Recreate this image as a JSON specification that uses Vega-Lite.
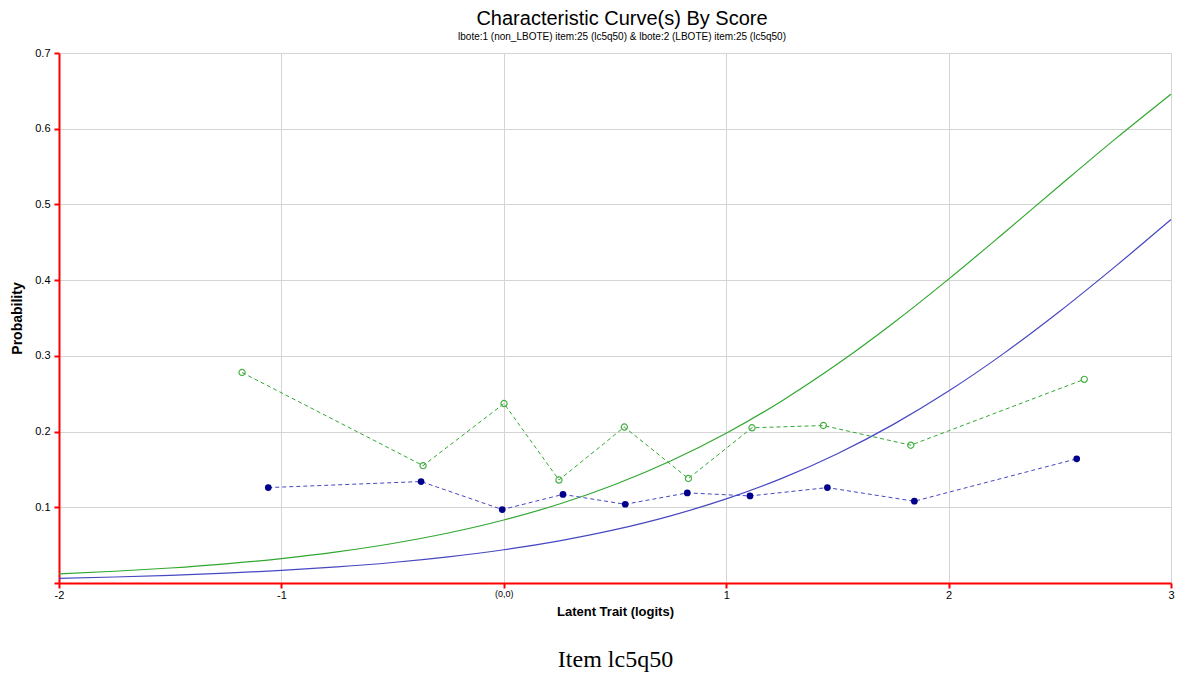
{
  "$schema": "https://vega.github.io/schema/vega-lite/v6.json",
  "width": 1112,
  "height": 530,
  "autosize": {"type": "none"},
  "padding": {"left": 59, "top": 53, "right": 8, "bottom": 98},
  "background": "white",
  "title": {
    "text": "Characteristic Curve(s) By Score",
    "subtitle": "lbote:1 (non_LBOTE) item:25 (lc5q50) & lbote:2 (LBOTE) item:25 (lc5q50)",
    "font": "Liberation Sans",
    "fontSize": 20,
    "fontWeight": "normal",
    "color": "#000000",
    "subtitleFont": "Liberation Sans",
    "subtitleFontSize": 10,
    "subtitleColor": "#000000",
    "subtitlePadding": 3,
    "anchor": "middle",
    "dx": 7,
    "offset": 5
  },
  "datasets": {
    "curves": [
      {"x": -2, "p": 0.00618, "g": "non_LBOTE"}, {"x": -1.75, "p": 0.00792, "g": "non_LBOTE"},
      {"x": -1.5, "p": 0.01015, "g": "non_LBOTE"}, {"x": -1.25, "p": 0.0130, "g": "non_LBOTE"},
      {"x": -1, "p": 0.0166, "g": "non_LBOTE"}, {"x": -0.75, "p": 0.0212, "g": "non_LBOTE"},
      {"x": -0.5, "p": 0.0271, "g": "non_LBOTE"}, {"x": -0.25, "p": 0.0346, "g": "non_LBOTE"},
      {"x": 0, "p": 0.0439, "g": "non_LBOTE"}, {"x": 0.25, "p": 0.0557, "g": "non_LBOTE"},
      {"x": 0.5, "p": 0.0704, "g": "non_LBOTE"}, {"x": 0.75, "p": 0.0887, "g": "non_LBOTE"},
      {"x": 1, "p": 0.1111, "g": "non_LBOTE"}, {"x": 1.25, "p": 0.1382, "g": "non_LBOTE"},
      {"x": 1.5, "p": 0.1708, "g": "non_LBOTE"}, {"x": 1.75, "p": 0.2092, "g": "non_LBOTE"},
      {"x": 2, "p": 0.2535, "g": "non_LBOTE"}, {"x": 2.25, "p": 0.3036, "g": "non_LBOTE"},
      {"x": 2.5, "p": 0.3589, "g": "non_LBOTE"}, {"x": 2.75, "p": 0.4182, "g": "non_LBOTE"},
      {"x": 3, "p": 0.4800, "g": "non_LBOTE"},
      {"x": -2, "p": 0.0121, "g": "LBOTE"}, {"x": -1.75, "p": 0.0155, "g": "LBOTE"},
      {"x": -1.5, "p": 0.0198, "g": "LBOTE"}, {"x": -1.25, "p": 0.0253, "g": "LBOTE"},
      {"x": -1, "p": 0.0323, "g": "LBOTE"}, {"x": -0.75, "p": 0.0411, "g": "LBOTE"},
      {"x": -0.5, "p": 0.0522, "g": "LBOTE"}, {"x": -0.25, "p": 0.0660, "g": "LBOTE"},
      {"x": 0, "p": 0.0832, "g": "LBOTE"}, {"x": 0.25, "p": 0.1043, "g": "LBOTE"},
      {"x": 0.5, "p": 0.1301, "g": "LBOTE"}, {"x": 0.75, "p": 0.1611, "g": "LBOTE"},
      {"x": 1, "p": 0.1978, "g": "LBOTE"}, {"x": 1.25, "p": 0.2405, "g": "LBOTE"},
      {"x": 1.5, "p": 0.2891, "g": "LBOTE"}, {"x": 1.75, "p": 0.3430, "g": "LBOTE"},
      {"x": 2, "p": 0.4013, "g": "LBOTE"}, {"x": 2.25, "p": 0.4626, "g": "LBOTE"},
      {"x": 2.5, "p": 0.5250, "g": "LBOTE"}, {"x": 2.75, "p": 0.5866, "g": "LBOTE"},
      {"x": 3, "p": 0.6457, "g": "LBOTE"}
    ],
    "observed": [
      {"x": -1.059, "p": 0.126, "g": "non_LBOTE"}, {"x": -0.372, "p": 0.134, "g": "non_LBOTE"},
      {"x": -0.007, "p": 0.097, "g": "non_LBOTE"}, {"x": 0.266, "p": 0.117, "g": "non_LBOTE"},
      {"x": 0.546, "p": 0.104, "g": "non_LBOTE"}, {"x": 0.825, "p": 0.119, "g": "non_LBOTE"},
      {"x": 1.107, "p": 0.115, "g": "non_LBOTE"}, {"x": 1.455, "p": 0.126, "g": "non_LBOTE"},
      {"x": 1.846, "p": 0.108, "g": "non_LBOTE"}, {"x": 2.576, "p": 0.164, "g": "non_LBOTE"},
      {"x": -1.177, "p": 0.278, "g": "LBOTE"}, {"x": -0.363, "p": 0.155, "g": "LBOTE"},
      {"x": 0.001, "p": 0.237, "g": "LBOTE"}, {"x": 0.248, "p": 0.136, "g": "LBOTE"},
      {"x": 0.542, "p": 0.206, "g": "LBOTE"}, {"x": 0.830, "p": 0.138, "g": "LBOTE"},
      {"x": 1.116, "p": 0.205, "g": "LBOTE"}, {"x": 1.437, "p": 0.208, "g": "LBOTE"},
      {"x": 1.830, "p": 0.182, "g": "LBOTE"}, {"x": 2.610, "p": 0.269, "g": "LBOTE"}
    ]
  },
  "config": {
    "view": {"stroke": null},
    "axis": {
      "labelFont": "Liberation Sans",
      "labelFontSize": 11,
      "labelColor": "#000000",
      "titleFont": "Liberation Sans",
      "titleColor": "#000000",
      "gridColor": "#d4d4d4",
      "gridWidth": 1
    }
  },
  "layer": [
    {
      "data": {"name": "curves"},
      "mark": {"type": "line", "strokeWidth": 1.2, "interpolate": "monotone"},
      "encoding": {
        "x": {
          "field": "x", "type": "quantitative",
          "scale": {"domain": [-2, 3], "nice": false, "zero": false},
          "axis": {
            "values": [-2, -1, 0, 1, 2, 3],
            "labelExpr": "datum.value == 0 ? '(0,0)' : '' + datum.value",
            "labelFontSize": {"condition": {"test": "datum.value == 0", "value": 9}, "value": 11},
            "labelFlush": false,
            "domainColor": "#ff0000", "domainWidth": 2,
            "tickColor": "#ff0000", "tickWidth": 2, "tickSize": 5,
            "labelPadding": 1,
            "title": "Latent Trait (logits)",
            "titleFontSize": 13, "titleFontWeight": "bold", "titlePadding": 5,
            "grid": true
          }
        },
        "y": {
          "field": "p", "type": "quantitative",
          "scale": {"domain": [0, 0.7], "nice": false},
          "axis": {
            "values": [0, 0.1, 0.2, 0.3, 0.4, 0.5, 0.6, 0.7],
            "format": ".1f",
            "labelExpr": "datum.value == 0 ? '' : datum.label",
            "labelFlush": false,
            "domainColor": "#ff0000", "domainWidth": 2,
            "tickColor": "#ff0000", "tickWidth": 2, "tickSize": 5,
            "labelPadding": 4,
            "title": "Probability",
            "titleFontSize": 14, "titleFontWeight": "bold", "titlePadding": 10,
            "grid": true
          }
        },
        "color": {
          "field": "g", "type": "nominal",
          "scale": {"domain": ["non_LBOTE", "LBOTE"], "range": ["#4747c2", "#30a830"]},
          "legend": null
        }
      }
    },
    {
      "data": {"name": "observed"},
      "mark": {"type": "line", "strokeWidth": 1, "strokeDash": [4, 3]},
      "encoding": {
        "x": {"field": "x", "type": "quantitative", "axis": null},
        "y": {"field": "p", "type": "quantitative"},
        "color": {
          "field": "g", "type": "nominal",
          "scale": {"domain": ["non_LBOTE", "LBOTE"], "range": ["#2a2aa8", "#33aa33"]},
          "legend": null
        }
      }
    },
    {
      "data": {"name": "observed"},
      "transform": [{"filter": "datum.g == 'non_LBOTE'"}],
      "mark": {"type": "point", "shape": "circle", "filled": true, "size": 45, "opacity": 1, "color": "#00008b"},
      "encoding": {
        "x": {"field": "x", "type": "quantitative", "axis": null},
        "y": {"field": "p", "type": "quantitative"}
      }
    },
    {
      "data": {"name": "observed"},
      "transform": [{"filter": "datum.g == 'LBOTE'"}],
      "mark": {"type": "point", "shape": "circle", "filled": false, "size": 38, "strokeWidth": 1.2, "opacity": 1, "color": "#44b044"},
      "encoding": {
        "x": {"field": "x", "type": "quantitative", "axis": null},
        "y": {"field": "p", "type": "quantitative"}
      }
    },
    {
      "data": {"name": "observed"},
      "mark": {"type": "point", "opacity": 0},
      "encoding": {
        "x": {
          "field": "x", "type": "quantitative",
          "axis": {
            "orient": "bottom",
            "labels": false, "ticks": false, "domain": false, "grid": false,
            "title": "Item lc5q50",
            "titleFont": "Liberation Serif",
            "titleFontSize": 24,
            "titleFontWeight": "normal",
            "titlePadding": 0,
            "offset": 64
          }
        },
        "y": {"field": "p", "type": "quantitative"}
      }
    }
  ],
  "resolve": {"axis": {"x": "independent"}}
}
